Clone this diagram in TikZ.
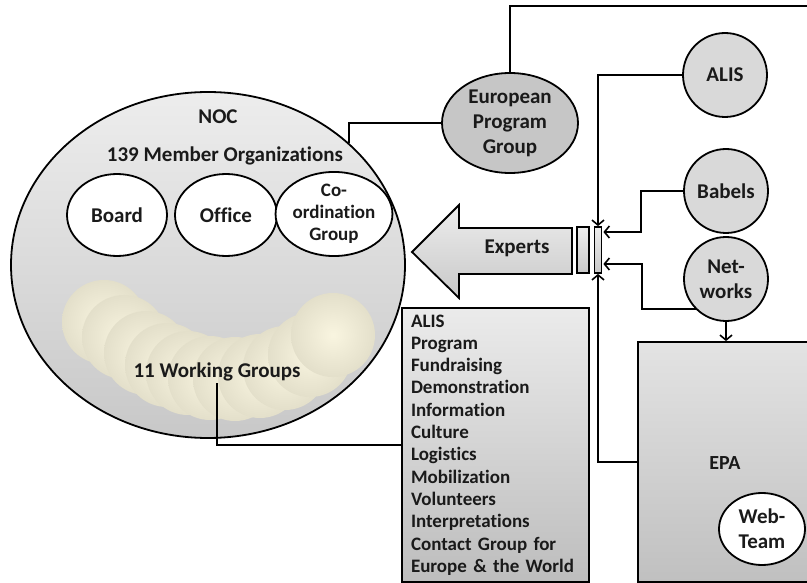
\documentclass[tikz,border=0pt]{standalone}
\usepackage{fontspec}
\setmainfont{Carlito}[Ligatures=NoCommon]
\usetikzlibrary{shapes.geometric,arrows.meta}
\definecolor{txt}{HTML}{1A1A1A}
\definecolor{sphC}{HTML}{F9F5E0}
\definecolor{sphM}{HTML}{E4E0CB}
\definecolor{sphD}{HTML}{D0CCB5}
\definecolor{sphE}{HTML}{B6B29B}
\definecolor{nocTop}{HTML}{EDEDED}
\definecolor{nocBot}{HTML}{C8C8C8}
\definecolor{boxTop}{HTML}{EBEBEB}
\definecolor{boxBot}{HTML}{BDBDBD}
\definecolor{epaTop}{HTML}{E3E3E3}
\definecolor{epaBot}{HTML}{C0C0C0}
\definecolor{epgFill}{HTML}{C6C6C6}
\definecolor{circFill}{HTML}{D9D9D9}
\pgfdeclareradialshading{sphereshade}{\pgfpoint{0bp}{0bp}}{color(0bp)=(sphC); color(24bp)=(sphM); color(44bp)=(sphD); color(50bp)=(sphE)}
\newcommand\myfs[2]{\fontsize{#1}{#2}\selectfont\bfseries}
\begin{document}
\begin{tikzpicture}[x=1pt,y=-1pt,
  every node/.style={text=txt},
  lw/.style={line width=1.8pt, draw=black},
  conn/.style={line width=1.8pt, draw=black},
  arr/.style={conn, -{Straight Barb[length=5pt,width=12pt,line width=1.6pt]}},
  whiteell/.style={ellipse, lw, fill=white, inner sep=0pt, align=center},
  graycirc/.style={circle, lw, fill=circFill, minimum size=84pt, inner sep=0pt, align=center, font=\myfs{21}{25}},
  sphere/.style={circle, minimum size=84pt, inner sep=0pt, shading=sphereshade},
  label21/.style={font=\myfs{21}{25}, inner sep=2pt}
]
\useasboundingbox (0,0) rectangle (807,583);
\clip (0,0) rectangle (807,583);

% NOC ellipse
\node[ellipse, lw, minimum width=394pt, minimum height=346pt, inner sep=0pt, top color=nocTop, bottom color=nocBot] (noc) at (208,265) {};
\node[label21] (noctitle) at (218,117) {NOC};
\node[label21] (members) at (225,156) {139 Member Organizations};
\node[whiteell, minimum width=100pt, minimum height=82pt, font=\myfs{21}{25}] (board) at (117,215) {Board};
\node[whiteell, minimum width=102pt, minimum height=82pt, font=\myfs{21}{25}] (office) at (226,215) {Office};
\node[whiteell, minimum width=102pt, minimum height=84pt, font=\myfs{19}{22}] (coord) at (334,214) {Co-\\ordination\\Group};

% working group spheres
\foreach \x/\y [count=\i] in {104/322,124/337,146/353,167/365,188/373,210/378,235/379,260/376,285/368,310/355,333/335}
  \node[sphere] (wg\i) at (\x,\y) {};
\node[label21] (wgtext) at (217,372) {11 Working Groups};

% list box
\node[rectangle, lw, top color=boxTop, bottom color=boxBot, minimum width=187pt, minimum height=274pt, text width=169pt, inner xsep=9pt, inner ysep=0pt, align=left, font=\myfs{19}{22.3}] (list) at (495.5,445) {ALIS\\Program\\Fundraising\\Demonstration\\Information\\Culture\\Logistics\\Mobilization\\Volunteers\\Interpretations\\Contact Group for\\Europe \& the World};
\draw[conn] (wgtext.south) |- (list.west);

% European Program Group
\node[ellipse, lw, fill=epgFill, minimum width=136pt, minimum height=100pt, inner sep=0pt, align=center, font=\myfs{21}{25}] (epg) at (510,123) {European\\Program\\Group};
\coordinate (topright) at (815,6);
\draw[conn] (epg.north) |- (topright);
\draw[conn] (epg.west) -| (noc.41.8);

% Experts arrow
\path[lw, top color=nocTop, bottom color=nocBot] (412,252) -- (459,205) -- (459,228) -- (572,228) -- (572,274) -- (459,274) -- (459,298) -- cycle;
\node[label21] (experts) at (517,248) {Experts};
\node[rectangle, lw, top color=nocTop, bottom color=nocBot, minimum width=12pt, minimum height=46pt, inner sep=0pt] (r1) at (583,250) {};
\node[rectangle, lw, top color=nocTop, bottom color=nocBot, minimum width=7pt, minimum height=46pt, inner sep=0pt] (r2) at (598,250) {};

% right circles
\node[graycirc] (alis) at (725,75) {ALIS};
\node[graycirc] (babels) at (726,191) {Babels};
\node[graycirc] (networks) at (726,279) {Net-\\works};

% EPA box
\node[rectangle, lw, top color=epaTop, bottom color=epaBot, minimum width=192pt, minimum height=240pt, inner sep=0pt] (epa) at (734,462) {};
\node[font=\myfs{20}{24}] (epatext) at (725,463) {EPA};
\node[whiteell, minimum width=86pt, minimum height=72pt, font=\myfs{21}{25}] (web) at (762,529) {Web-\\Team};

% connectors into the bar
\draw[arr] (alis.west) -| (r2.north);
\draw[arr] (babels.west) -- ++(-42,0) |- ([yshift=18pt,xshift=1pt]r2.east);
\draw[arr] (networks.225) -- ++(-54,0) |- ([yshift=-14pt,xshift=1pt]r2.east);
\draw[arr] (epa.west) -| (r2.south);
\draw[arr] (networks.south) -- (networks.south |- epa.north);
\end{tikzpicture}
\end{document}
